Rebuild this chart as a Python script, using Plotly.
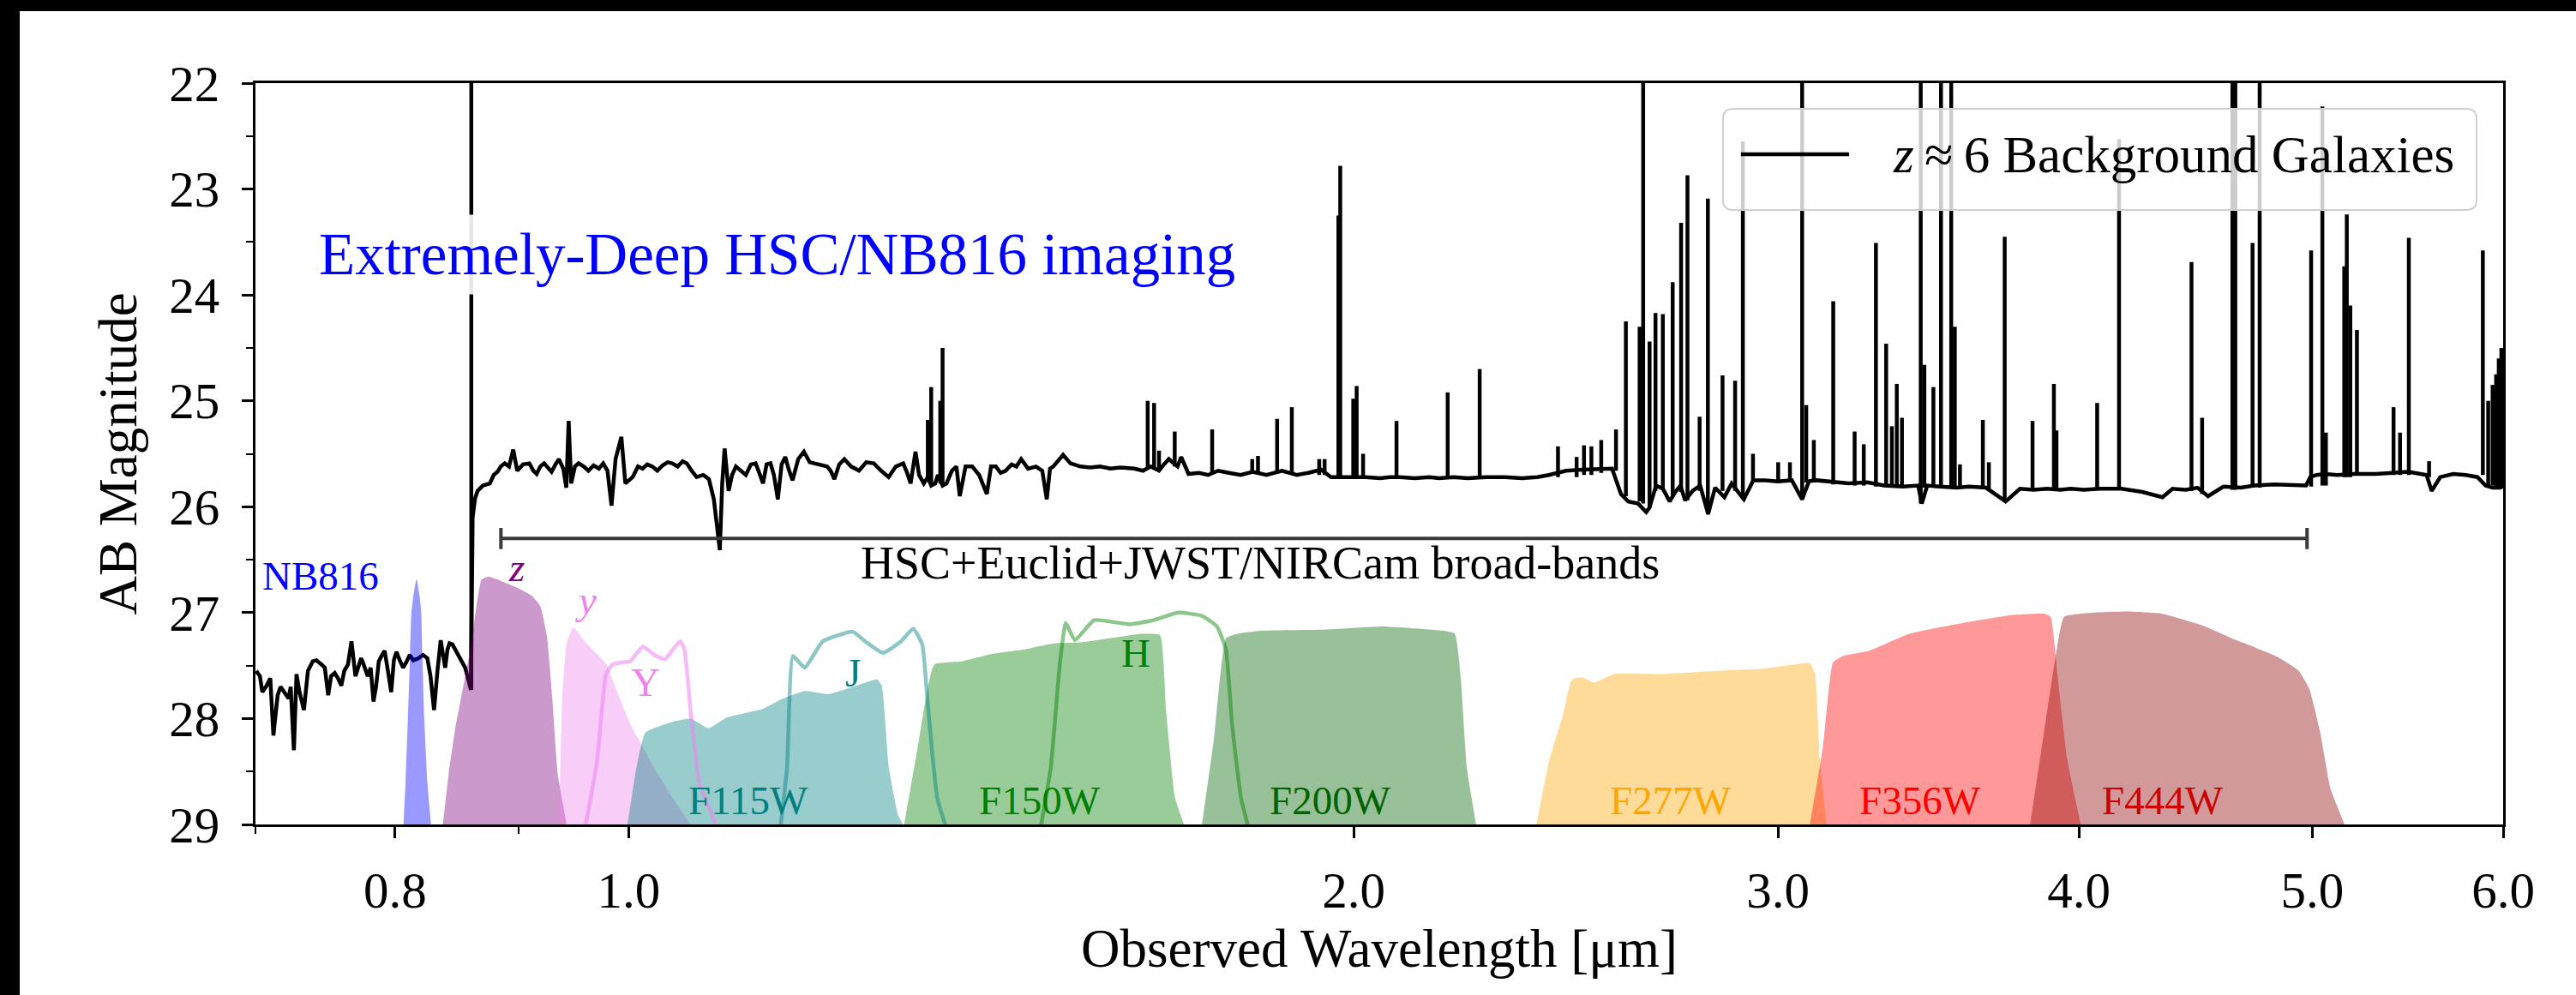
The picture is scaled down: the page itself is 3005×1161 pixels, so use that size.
import math
import plotly.graph_objects as go

FONT = "Liberation Serif"

# ---------------- spectrum (continuum) ----------------
spec_wl = [
    0.7005, 0.7030, 0.7046, 0.7075, 0.7100, 0.7121, 0.7150, 0.7170, 0.7195, 0.7225,
    0.7240, 0.7262, 0.7280, 0.7301, 0.7332, 0.7360, 0.7394, 0.7420, 0.7457, 0.7480,
    0.7504, 0.7525, 0.7551, 0.7575, 0.7599, 0.7620, 0.7647, 0.7673, 0.7702, 0.7725,
    0.7744, 0.7760, 0.7793, 0.7815, 0.7836, 0.7855, 0.7876, 0.7900, 0.7920, 0.7945,
    0.7970, 0.7990, 0.8010, 0.8035, 0.8061, 0.8085, 0.8112, 0.8140, 0.8181, 0.8215,
    0.8250, 0.8275, 0.8303, 0.8330, 0.8356, 0.8375, 0.8392, 0.8410, 0.8427, 0.8450,
    0.8481, 0.8520, 0.8554, 0.8601,
    0.8615, 0.8635, 0.8656, 0.8700, 0.8758, 0.8790, 0.8822, 0.8850, 0.8884, 0.8920,
    0.8956, 0.8990, 0.9040, 0.9095, 0.9130, 0.9159, 0.9190, 0.9224, 0.9260, 0.9290,
    0.9325, 0.9355, 0.9395, 0.9422, 0.9443, 0.9466, 0.9500, 0.9533, 0.9580, 0.9623,
    0.9670, 0.9720, 0.9760, 0.9800, 0.9838, 0.9876, 0.9931, 0.9969, 1.0039, 1.0090,
    1.0134, 1.0180, 1.0230, 1.0278, 1.0330, 1.0380, 1.0424, 1.0480, 1.0530, 1.0572,
    1.0620, 1.0672, 1.0740, 1.0798, 1.0849, 1.0911, 1.0936, 1.0961, 1.1003, 1.1040,
    1.1080, 1.1140, 1.1186, 1.1240, 1.1291, 1.1330, 1.1371, 1.1410, 1.1452, 1.1490,
    1.1533, 1.1575, 1.1615, 1.1655, 1.1697, 1.1760, 1.1824, 1.1890, 1.1948, 1.2020,
    1.2089, 1.2130, 1.2174, 1.2230, 1.2290, 1.2370, 1.2464, 1.2550, 1.2641, 1.2730,
    1.2822, 1.2910, 1.3002, 1.3050, 1.3094, 1.3155, 1.3200, 1.3260, 1.3311, 1.3354,
    1.3405, 1.3440, 1.3500, 1.3551, 1.3620, 1.3680, 1.3724, 1.3800, 1.3888, 1.3980,
    1.4083, 1.4140, 1.4205, 1.4270, 1.4339, 1.4420, 1.4487, 1.4553, 1.4650, 1.4760,
    1.4850, 1.4914, 1.4960, 1.5006, 1.5148, 1.5255, 1.5400, 1.5550, 1.5691, 1.5850,
    1.6000, 1.6216, 1.6350, 1.6470, 1.6603, 1.6680, 1.6759, 1.6900, 1.6958, 1.7078,
    1.7250, 1.7400, 1.7567, 1.7750, 1.7950, 1.8155, 1.8400, 1.8674, 1.8940, 1.9150,
    1.9387, 1.9569, 1.9800, 2.0227, 2.0511, 2.0700, 2.0902, 2.1200, 2.1497, 2.1700,
    2.2000, 2.2300, 2.2700, 2.3100, 2.3500, 2.3833, 2.4100, 2.4500, 2.4900, 2.5300,
    2.5600, 2.5820, 2.6000, 2.6247, 2.6450, 2.6531, 2.6700, 2.6874, 2.7050, 2.7195,
    2.7330, 2.7452, 2.7650, 2.7850, 2.8063, 2.8250, 2.8503, 2.8700, 2.8976, 2.9038,
    2.9300, 2.9643, 3.0000, 3.0400, 3.0701, 3.0900, 3.1120, 3.1628, 3.2100, 3.2674,
    3.3200, 3.3800, 3.4302, 3.4421, 3.4600, 3.5000, 3.5600, 3.6010, 3.6600, 3.7293,
    3.7806, 3.8300, 3.8800, 3.9300, 3.9686, 4.0200, 4.0800, 4.1665, 4.2500, 4.3324,
    4.3745, 4.4300, 4.4800, 4.5254, 4.5920, 4.6700, 4.7300, 4.8205, 4.9000, 4.9700,
    4.9900, 5.0200, 5.0599, 5.1200, 5.2000, 5.3116, 5.4000, 5.4800, 5.5766, 5.6036,
    5.6500, 5.7200, 5.7900, 5.8545, 5.9000, 5.9400, 5.9840, 6.0000,
]
spec_mag = [
    27.55, 27.60, 27.75, 27.69, 27.62, 28.16, 27.78, 27.70, 27.75, 27.81,
    27.70, 28.30, 27.58, 27.75, 27.92, 27.55, 27.46, 27.45, 27.49, 27.52,
    27.78, 27.60, 27.57, 27.62, 27.69, 27.55, 27.49, 27.27, 27.60, 27.52,
    27.43, 27.48, 27.60, 27.52, 27.84, 27.70, 27.46, 27.40, 27.36, 27.55,
    27.75, 27.45, 27.37, 27.45, 27.52, 27.47, 27.40, 27.45, 27.43, 27.40,
    27.43, 27.60, 27.92, 27.55, 27.26, 27.40, 27.52, 27.35, 27.29, 27.30,
    27.37, 27.45, 27.52, 27.73,
    26.10, 25.92, 25.85, 25.80, 25.78, 25.70, 25.67, 25.62, 25.59, 25.62,
    25.46, 25.66, 25.60, 25.59, 25.66, 25.69, 25.62, 25.59, 25.63, 25.67,
    25.60, 25.55, 25.64, 25.82, 25.19, 25.78, 25.62, 25.59, 25.62, 25.66,
    25.61, 25.64, 25.59, 25.66, 25.99, 25.55, 25.34, 25.78, 25.72, 25.62,
    25.64, 25.60, 25.62, 25.66, 25.61, 25.58, 25.59, 25.62, 25.57, 25.59,
    25.66, 25.72, 25.70, 25.74, 25.93, 26.41, 25.78, 25.45, 25.85, 25.70,
    25.62, 25.66, 25.70, 25.60, 25.59, 25.68, 25.78, 25.60, 25.59, 25.70,
    25.93, 25.60, 25.53, 25.65, 25.75, 25.55, 25.48, 25.58, 25.59, 25.60,
    25.62, 25.66, 25.74, 25.60, 25.55, 25.62, 25.66, 25.58, 25.59, 25.66,
    25.72, 25.62, 25.59, 25.68, 25.78, 25.48, 25.70, 25.78, 25.72, 25.80,
    25.78, 25.70, 25.80, 25.78, 25.66, 25.62, 25.90, 25.62, 25.62, 25.70,
    25.88, 25.62, 25.62, 25.68, 25.66, 25.60, 25.62, 25.55, 25.64, 25.62,
    25.66, 25.93, 25.64, 25.62, 25.51, 25.59, 25.62, 25.63, 25.62, 25.64,
    25.63, 25.64, 25.66, 25.62, 25.66, 25.60, 25.55, 25.62, 25.53, 25.69,
    25.68, 25.70, 25.66, 25.68, 25.70, 25.67, 25.70, 25.66, 25.70, 25.68,
    25.65, 25.72, 25.72, 25.72, 25.73, 25.72, 25.72, 25.73, 25.72, 25.73,
    25.72, 25.73, 25.72, 25.72, 25.73, 25.72, 25.70, 25.66, 25.65, 25.64,
    25.64, 25.88, 25.95, 25.97, 26.05, 26.01, 25.80, 25.83, 25.95, 25.86,
    25.80, 25.94, 25.85, 25.80, 26.07, 25.82, 25.91, 25.78, 25.91, 25.93,
    25.75, 25.75, 25.76, 25.75, 25.93, 25.76, 25.75, 25.77, 25.78, 25.77,
    25.80, 25.81, 25.80, 25.97, 25.80, 25.81, 25.82, 25.81, 25.82, 25.95,
    25.83, 25.84, 25.83, 25.84, 25.83, 25.84, 25.83, 25.83, 25.86, 25.91,
    25.83, 25.84, 25.82, 25.90, 25.81, 25.82, 25.80, 25.79, 25.80, 25.80,
    25.72, 25.70, 25.69, 25.70, 25.69, 25.69, 25.68, 25.67, 25.70, 25.85,
    25.72, 25.69, 25.70, 25.72, 25.80, 25.82, 25.82, 25.80,
]

# ---------------- emission lines (wavelength, base, peak) ----------------
line_wl = [
    0.8604, 1.3311, 1.3354, 1.3470, 1.3500, 1.6424, 1.6525, 1.6603, 1.6854, 1.7468,
    1.8150, 1.8250, 1.8587, 1.8850, 1.9350, 1.9450, 1.9708, 1.9743, 1.9990, 2.0055,
    2.0179, 2.0834, 2.1878, 2.2558, 2.4311, 2.4748, 2.4923, 2.5100, 2.5337, 2.5697,
    2.5941, 2.6284, 2.6373, 2.6535, 2.6686, 2.6874, 2.7128, 2.7347, 2.7514, 2.7835,
    2.8056, 2.8452, 2.8796, 2.9010, 2.9292, 3.0006, 3.0345, 3.0701, 3.0822, 3.1046,
    3.1628, 3.2281, 3.2564, 3.2945, 3.3268, 3.3450, 3.3608, 3.3774, 3.4386, 3.4505,
    3.4805, 3.5059, 3.5403, 3.5525, 3.5700, 3.6490, 3.6700, 3.7260, 3.8265, 3.9054,
    3.9150, 4.0703, 4.1563, 4.4543, 4.4998, 4.6320, 4.6450, 4.7220, 4.7543, 4.9940,
    5.0479, 5.0650, 5.1546, 5.1672, 5.1846, 5.2175, 5.4033, 5.4370, 5.4828, 5.5900,
    5.8848, 5.9150, 5.9400, 5.9600, 5.9750, 5.9900,
]
line_base = [
    27.73, 25.75, 25.78, 25.78, 25.78, 25.65, 25.65, 25.66, 25.62, 25.68,
    25.68, 25.68, 25.67, 25.68, 25.70, 25.70, 25.72, 25.72, 25.72, 25.72,
    25.72, 25.73, 25.73, 25.73, 25.72, 25.72, 25.70, 25.70, 25.68, 25.66,
    25.90, 25.95, 25.97, 26.01, 25.85, 25.83, 25.90, 25.86, 25.94, 25.85,
    26.05, 25.85, 25.85, 25.91, 25.76, 25.76, 25.76, 25.93, 25.77, 25.77,
    25.79, 25.80, 25.80, 25.81, 25.81, 25.81, 25.82, 25.82, 25.97, 25.82,
    25.82, 25.82, 25.82, 25.82, 25.82, 25.82, 25.83, 25.95, 25.84, 25.84,
    25.84, 25.83, 25.83, 25.85, 25.88, 25.84, 25.84, 25.82, 25.82, 25.81,
    25.80, 25.80, 25.72, 25.72, 25.72, 25.70, 25.70, 25.70, 25.70, 25.72,
    25.70, 25.80, 25.80, 25.82, 25.82, 25.82,
]
line_peak = [
    21.00, 25.18, 24.87, 25.00, 24.50, 25.00, 25.02, 25.47, 25.29, 25.27,
    25.55, 25.52, 25.17, 25.06, 25.55, 25.55, 23.25, 22.78, 24.98, 24.86,
    25.50, 25.19, 24.92, 24.70, 25.43, 25.53, 25.42, 25.43, 25.37, 25.27,
    24.25, 24.30, 21.00, 24.44, 24.17, 24.18, 23.88, 23.32, 22.87, 25.15,
    23.09, 24.76, 24.81, 22.55, 25.50, 25.58, 25.58, 21.00, 25.04, 25.37,
    24.06, 25.29, 25.41, 23.51, 24.46, 25.24, 24.84, 25.16, 21.00, 24.66,
    24.87, 21.00, 21.00, 24.30, 25.60, 25.18, 25.58, 23.45, 25.19, 24.84,
    25.28, 25.02, 22.53, 23.69, 25.16, 21.00, 21.00, 23.51, 21.00, 23.58,
    22.22, 25.30, 23.73, 23.24, 24.10, 24.33, 25.06, 25.30, 23.46, 25.57,
    23.58, 25.00, 24.85, 24.75, 24.60, 24.50,
]

# ---------------- filter curves (wavelength [um], AB mag) ----------------
nb816_wl = [0.8064, 0.8080, 0.8098, 0.8112, 0.8125, 0.8140, 0.8165, 0.8190, 0.8202, 0.8213, 0.8226, 0.8250, 0.8279]
nb816_mag = [29.0, 28.6, 28.0, 27.5, 27.0, 26.85, 26.68, 26.85, 27.0, 27.5, 28.0, 28.6, 29.0]

z_wl = [0.8373, 0.8419, 0.8472, 0.8597, 0.8688, 0.8742, 0.8872, 0.9000, 0.9115, 0.9191, 0.9250, 0.9296, 0.9346, 0.9425]
z_mag = [29.0, 28.53, 28.10, 27.34, 26.69, 26.66, 26.71, 26.77, 26.84, 26.94, 27.23, 27.80, 28.53, 29.0]

y_wl = [0.9346, 0.9365, 0.9385, 0.9425, 0.9484, 0.9604, 0.9786, 0.9845, 1.0016, 1.0250, 1.0429, 1.0609]
y_mag = [29.0, 28.66, 27.80, 27.29, 27.14, 27.29, 27.48, 27.63, 28.05, 28.47, 28.75, 29.0]

f115w_wl = [0.9989, 1.0074, 1.0162, 1.0429, 1.0609, 1.0795, 1.0983, 1.1175, 1.1367, 1.1566, 1.1834, 1.2110, 1.2390, 1.2680, 1.2738, 1.2826, 1.2937, 1.3000]
f115w_mag = [29.0, 28.47, 28.13, 28.03, 28.00, 28.09, 27.99, 27.95, 27.91, 27.82, 27.74, 27.77, 27.70, 27.63, 27.69, 28.47, 28.91, 29.0]

f150w_wl = [1.3013, 1.3202, 1.3393, 1.3750, 1.4155, 1.4576, 1.5011, 1.5417, 1.5865, 1.6333, 1.6618, 1.6713, 1.6860, 1.7004]
f150w_mag = [29.0, 28.19, 27.49, 27.46, 27.39, 27.35, 27.29, 27.28, 27.24, 27.20, 27.21, 27.91, 28.75, 29.0]

f200w_wl = [1.7298, 1.7498, 1.7702, 1.7906, 1.8326, 1.9422, 2.0565, 2.1778, 2.2028, 2.2156, 2.2285, 2.2480]
f200w_mag = [29.0, 28.19, 27.24, 27.20, 27.17, 27.16, 27.13, 27.17, 27.20, 27.63, 28.47, 29.0]

f277w_wl = [2.3816, 2.4112, 2.4412, 2.4638, 2.4869, 2.5172, 2.5648, 2.6900, 2.8301, 2.9591, 3.0928, 3.1085, 3.1224, 3.1423]
f277w_mag = [29.0, 28.39, 27.99, 27.63, 27.61, 27.66, 27.58, 27.58, 27.55, 27.53, 27.48, 27.58, 28.39, 29.0]

f356w_wl = [3.0928, 3.1322, 3.1620, 3.1924, 3.2738, 3.4004, 3.5762, 3.7609, 3.8690, 3.8935, 3.9184, 3.9558, 4.0066]
f356w_mag = [29.0, 28.26, 27.47, 27.41, 27.36, 27.20, 27.10, 27.02, 27.01, 27.04, 27.58, 28.39, 29.0]

f444w_wl = [3.8176, 3.8690, 3.9184, 3.9434, 4.0588, 4.1912, 4.3283, 4.5003, 4.6496, 4.7120, 4.8382, 4.9355, 4.9853, 5.0363, 5.0871, 5.1560]
f444w_mag = [29.0, 28.12, 27.31, 27.04, 27.00, 26.99, 27.01, 27.12, 27.26, 27.31, 27.42, 27.55, 27.72, 28.12, 28.66, 29.0]

# Euclid outlines
eY_wl = [0.9500, 0.9604, 0.9704, 0.9786, 0.9848, 0.9930, 1.0014, 1.0080, 1.0140, 1.0250, 1.0354, 1.0430, 1.0507, 1.0549, 1.0609, 1.0700, 1.0858, 1.1000]
eY_mag = [29.5, 28.97, 28.39, 27.58, 27.49, 27.47, 27.46, 27.38, 27.32, 27.40, 27.44, 27.35, 27.27, 27.35, 27.91, 28.61, 28.98, 29.5]

eJ_wl = [1.1500, 1.1566, 1.1635, 1.1700, 1.1834, 1.2040, 1.2390, 1.2535, 1.2752, 1.2975, 1.3126, 1.3240, 1.3316, 1.3432, 1.3668]
eJ_mag = [29.5, 29.0, 28.47, 27.41, 27.52, 27.27, 27.18, 27.27, 27.38, 27.27, 27.15, 27.30, 27.91, 28.75, 29.3]

eH_wl = [1.4754, 1.4970, 1.5100, 1.5187, 1.5320, 1.5606, 1.6146, 1.6523, 1.6909, 1.7298, 1.7548, 1.7700, 1.7803, 1.7957, 1.8217]
eH_mag = [29.3, 28.47, 27.49, 27.10, 27.26, 27.07, 27.11, 27.07, 27.00, 27.03, 27.13, 27.35, 28.05, 28.75, 29.3]

# bracket for broad-band coverage
bracket_wl = [0.8851, 4.9745]
bracket_mag = 26.30
bracket_cap = [26.20, 26.40]

# tick labels
xtick_vals = [0.8, 1.0, 2.0, 3.0, 4.0, 5.0, 6.0]
xtick_text = ["0.8", "1.0", "2.0", "3.0", "4.0", "5.0", "6.0"]
xminor_vals = [0.7, 0.9]
ytick_vals = [22, 23, 24, 25, 26, 27, 28, 29]
yminor_vals = [22.5, 23.5, 24.5, 25.5, 26.5, 27.5, 28.5]

# filter labels: (text, wavelength, mag, color, italic)
labels = [
    ("NB816", 0.7450, 26.65, "#0000ff", False),
    ("z", 0.8987, 26.57, "#800080", True),
    ("y", 0.9600, 26.88, "#ee82ee", True),
    ("Y", 1.0162, 27.66, "#ee82ee", False),
    ("J", 1.2392, 27.57, "#008080", False),
    ("H", 1.6233, 27.38, "#008000", False),
    ("F115W", 1.1212, 28.77, "#008080", False),
    ("F150W", 1.4817, 28.77, "#008000", False),
    ("F200W", 1.9566, 28.77, "#006400", False),
    ("F277W", 2.7070, 28.77, "#ffa500", False),
    ("F356W", 3.4355, 28.77, "#ff0000", False),
    ("F444W", 4.3324, 28.77, "#cc0000", False),
]

fig = go.Figure()

# spectrum continuum
fig.add_trace(go.Scatter(x=spec_wl, y=spec_mag, mode="lines",
                         line=dict(color="black", width=4.5), showlegend=False,
                         hoverinfo="skip"))
# emission lines as vertical segments
lx, ly = [], []
for w, b, p in zip(line_wl, line_base, line_peak):
    lx += [w, w, None]
    ly += [b, p, None]
fig.add_trace(go.Scatter(x=lx, y=ly, mode="lines",
                         line=dict(color="black", width=4.5), showlegend=False,
                         hoverinfo="skip"))

# filled filters
fills = [
    (nb816_wl, nb816_mag, "rgba(0,0,255,0.4)"),
    (z_wl, z_mag, "rgba(128,0,128,0.4)"),
    (y_wl, y_mag, "rgba(238,130,238,0.4)"),
    (f115w_wl, f115w_mag, "rgba(0,128,128,0.4)"),
    (f150w_wl, f150w_mag, "rgba(0,128,0,0.4)"),
    (f200w_wl, f200w_mag, "rgba(0,100,0,0.4)"),
    (f277w_wl, f277w_mag, "rgba(255,165,0,0.4)"),
    (f356w_wl, f356w_mag, "rgba(255,0,0,0.4)"),
    (f444w_wl, f444w_mag, "rgba(139,0,0,0.4)"),
]
for wl, mg, col in fills:
    fig.add_trace(go.Scatter(x=wl, y=mg, mode="lines", fill="toself",
                             fillcolor=col, line=dict(width=0, color=col, shape="spline", smoothing=0.4),
                             showlegend=False, hoverinfo="skip"))

# Euclid outlines
for wl, mg, col in [(eY_wl, eY_mag, "rgba(238,130,238,0.55)"),
                    (eJ_wl, eJ_mag, "rgba(0,128,128,0.45)"),
                    (eH_wl, eH_mag, "rgba(0,128,0,0.45)")]:
    fig.add_trace(go.Scatter(x=wl, y=mg, mode="lines",
                             line=dict(color=col, width=4.5, shape="spline", smoothing=0.4),
                             showlegend=False, hoverinfo="skip"))

# bracket
bx = [bracket_wl[0], bracket_wl[1], None, bracket_wl[0], bracket_wl[0], None,
      bracket_wl[1], bracket_wl[1]]
by = [bracket_mag, bracket_mag, None, bracket_cap[0], bracket_cap[1], None,
      bracket_cap[0], bracket_cap[1]]
fig.add_trace(go.Scatter(x=bx, y=by, mode="lines", line=dict(color="#3a3a3a", width=4),
                         showlegend=False, hoverinfo="skip"))

annotations = []
for text, wl, mg, col, it in labels:
    annotations.append(dict(
        x=math.log10(wl), y=mg, xref="x", yref="y",
        text=f"<i>{text}</i>" if it else text, showarrow=False,
        font=dict(family=FONT, size=47, color=col),
        xanchor="center", yanchor="middle"))

annotations.append(dict(
    x=0.06174, y=23.62, xref="x", yref="y",
    text="Extremely-Deep HSC/NB816 imaging", showarrow=False,
    font=dict(family=FONT, size=69, color="#0000ff"),
    bgcolor="rgba(255,255,255,0.9)", borderpad=8,
    xanchor="center", yanchor="middle"))

annotations.append(dict(
    x=0.26228, y=26.53, xref="x", yref="y",
    text="HSC+Euclid+JWST/NIRCam broad-bands", showarrow=False,
    font=dict(family=FONT, size=54, color="black"),
    xanchor="center", yanchor="middle"))

# legend text
annotations.append(dict(
    x=0.7277, y=0.904, xref="paper", yref="paper",
    text="<i>z</i>\u2009\u2248\u20096 Background Galaxies", showarrow=False,
    font=dict(family=FONT, size=61, color="black"),
    xanchor="left", yanchor="middle"))

# legend box (rounded)
x0, x1, y0, y1 = 0.6529, 0.9882, 0.8289, 0.9653
rx, ry = 12 / 2622, 12 / 865
path = (f"M {x0+rx},{y0} L {x1-rx},{y0} Q {x1},{y0} {x1},{y0+ry} "
        f"L {x1},{y1-ry} Q {x1},{y1} {x1-rx},{y1} L {x0+rx},{y1} "
        f"Q {x0},{y1} {x0},{y1-ry} L {x0},{y0+ry} Q {x0},{y0} {x0+rx},{y0} Z")

shapes = [
    dict(type="path", path=path, xref="paper", yref="paper",
         fillcolor="rgba(255,255,255,0.8)", line=dict(color="#d0d0d0", width=2),
         layer="above"),
    dict(type="line", x0=0.6609, x1=0.7090, y0=0.904, y1=0.904,
         xref="paper", yref="paper", line=dict(color="black", width=4.5),
         layer="above"),
    # black frame edges of the original screenshot
    dict(type="rect", x0=-0.2, x1=-0.10488, y0=-0.3, y1=1.2, xref="paper",
         yref="paper", fillcolor="black", line=dict(width=0), layer="above"),
    dict(type="rect", x0=-0.2, x1=1.1, y0=1.0971, y1=1.2, xref="paper",
         yref="paper", fillcolor="black", line=dict(width=0), layer="above"),
]

fig.update_layout(
    width=3005, height=1161,
    margin=dict(l=298, r=85, t=97, b=199, autoexpand=False),
    paper_bgcolor="white", plot_bgcolor="white",
    font=dict(family=FONT, color="black"),
    annotations=annotations, shapes=shapes, showlegend=False,
)
fig.update_xaxes(
    type="log", range=[math.log10(0.7), math.log10(6.0)],
    tickvals=xtick_vals, ticktext=xtick_text, tickfont=dict(size=59, family=FONT),
    ticks="outside", ticklen=13, tickwidth=2.5, tickcolor="black",
    minor=dict(tickvals=xminor_vals, ticks="outside", ticklen=8, tickwidth=2, tickcolor="black"),
    showline=True, linecolor="black", linewidth=2.7, mirror=True,
    showgrid=False, zeroline=False, ticklabelstandoff=10,
    title=dict(text="Observed Wavelength [\u03bcm]", font=dict(size=63, family=FONT), standoff=8),
    automargin=False,
)
fig.update_yaxes(
    range=[29, 22], tickvals=ytick_vals, tickfont=dict(size=59, family=FONT),
    ticks="outside", ticklen=13, tickwidth=2.5, tickcolor="black",
    minor=dict(tickvals=yminor_vals, ticks="outside", ticklen=8, tickwidth=2, tickcolor="black"),
    showline=True, linecolor="black", linewidth=2.7, mirror=True,
    showgrid=False, zeroline=False, ticklabelstandoff=14,
    title=dict(text="AB Magnitude", font=dict(size=63, family=FONT), standoff=18),
    automargin=False,
)

fig.write_html("out.html")
